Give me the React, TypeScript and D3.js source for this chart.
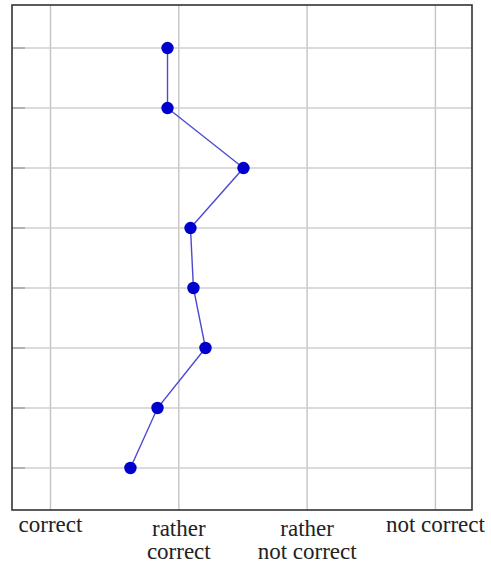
import React from "react";
import * as d3 from "d3";

const categories = ["correct", "rather\ncorrect", "rather\nnot correct", "not correct"];
const categoryValues = [1, 2, 3, 4];
const rows = [8, 7, 6, 5, 4, 3, 2, 1];
const values = [1.912, 1.912, 2.504, 2.091, 2.114, 2.208, 1.834, 1.623];

const W = 491;
const H = 564;
const left = 12;
const right = 472;
const top = 5;
const bottom = 510;

export default function App() {
  const x = d3.scaleLinear().domain([0.7, 4.285]).range([left, right]);
  const y = d3.scaleLinear().domain([0.3, 8.717]).range([bottom, top]);
  const line = d3
    .line<number>()
    .x((d) => x(d))
    .y((_, i) => y(rows[i]));
  const font = "'Liberation Serif', 'DejaVu Serif', serif";
  return (
    <svg
      width={W}
      height={H}
      style={{ position: "absolute", left: 0, top: 0, background: "#fff" }}
    >
      <rect x={0} y={0} width={W} height={H} fill="#fff" />
      {categoryValues.map((c) => (
        <line
          key={"v" + c}
          x1={x(c)}
          x2={x(c)}
          y1={top}
          y2={bottom}
          stroke="#c4c4c4"
          strokeWidth={1.4}
        />
      ))}
      {rows.map((r) => (
        <g key={"h" + r}>
          <line x1={left} x2={right} y1={y(r)} y2={y(r)} stroke="#cfcfcf" strokeWidth={1.4} />
          <line x1={left} x2={left + 13} y1={y(r)} y2={y(r)} stroke="#a0a0a0" strokeWidth={1.4} />
        </g>
      ))}
      <rect
        x={left}
        y={top}
        width={right - left}
        height={bottom - top}
        fill="none"
        stroke="#333"
        strokeWidth={1.6}
      />
      <path d={line(values) || ""} fill="none" stroke="#4a4ad0" strokeWidth={1.4} />
      {values.map((v, i) => (
        <circle key={"p" + i} cx={x(v)} cy={y(rows[i])} r={6.2} fill="#0000cc" />
      ))}
      {categories.map((c, i) => {
        const lines = c.split("\n");
        const base = lines.length > 1 ? 536 : 532;
        return (
          <text
            key={"t" + i}
            x={x(categoryValues[i])}
            y={base}
            textAnchor="middle"
            fontFamily={font}
            fontSize={23}
            fill="#222"
          >
            {lines.map((l, j) => (
              <tspan key={j} x={x(categoryValues[i])} dy={j === 0 ? 0 : 23}>
                {l}
              </tspan>
            ))}
          </text>
        );
      })}
    </svg>
  );
}
